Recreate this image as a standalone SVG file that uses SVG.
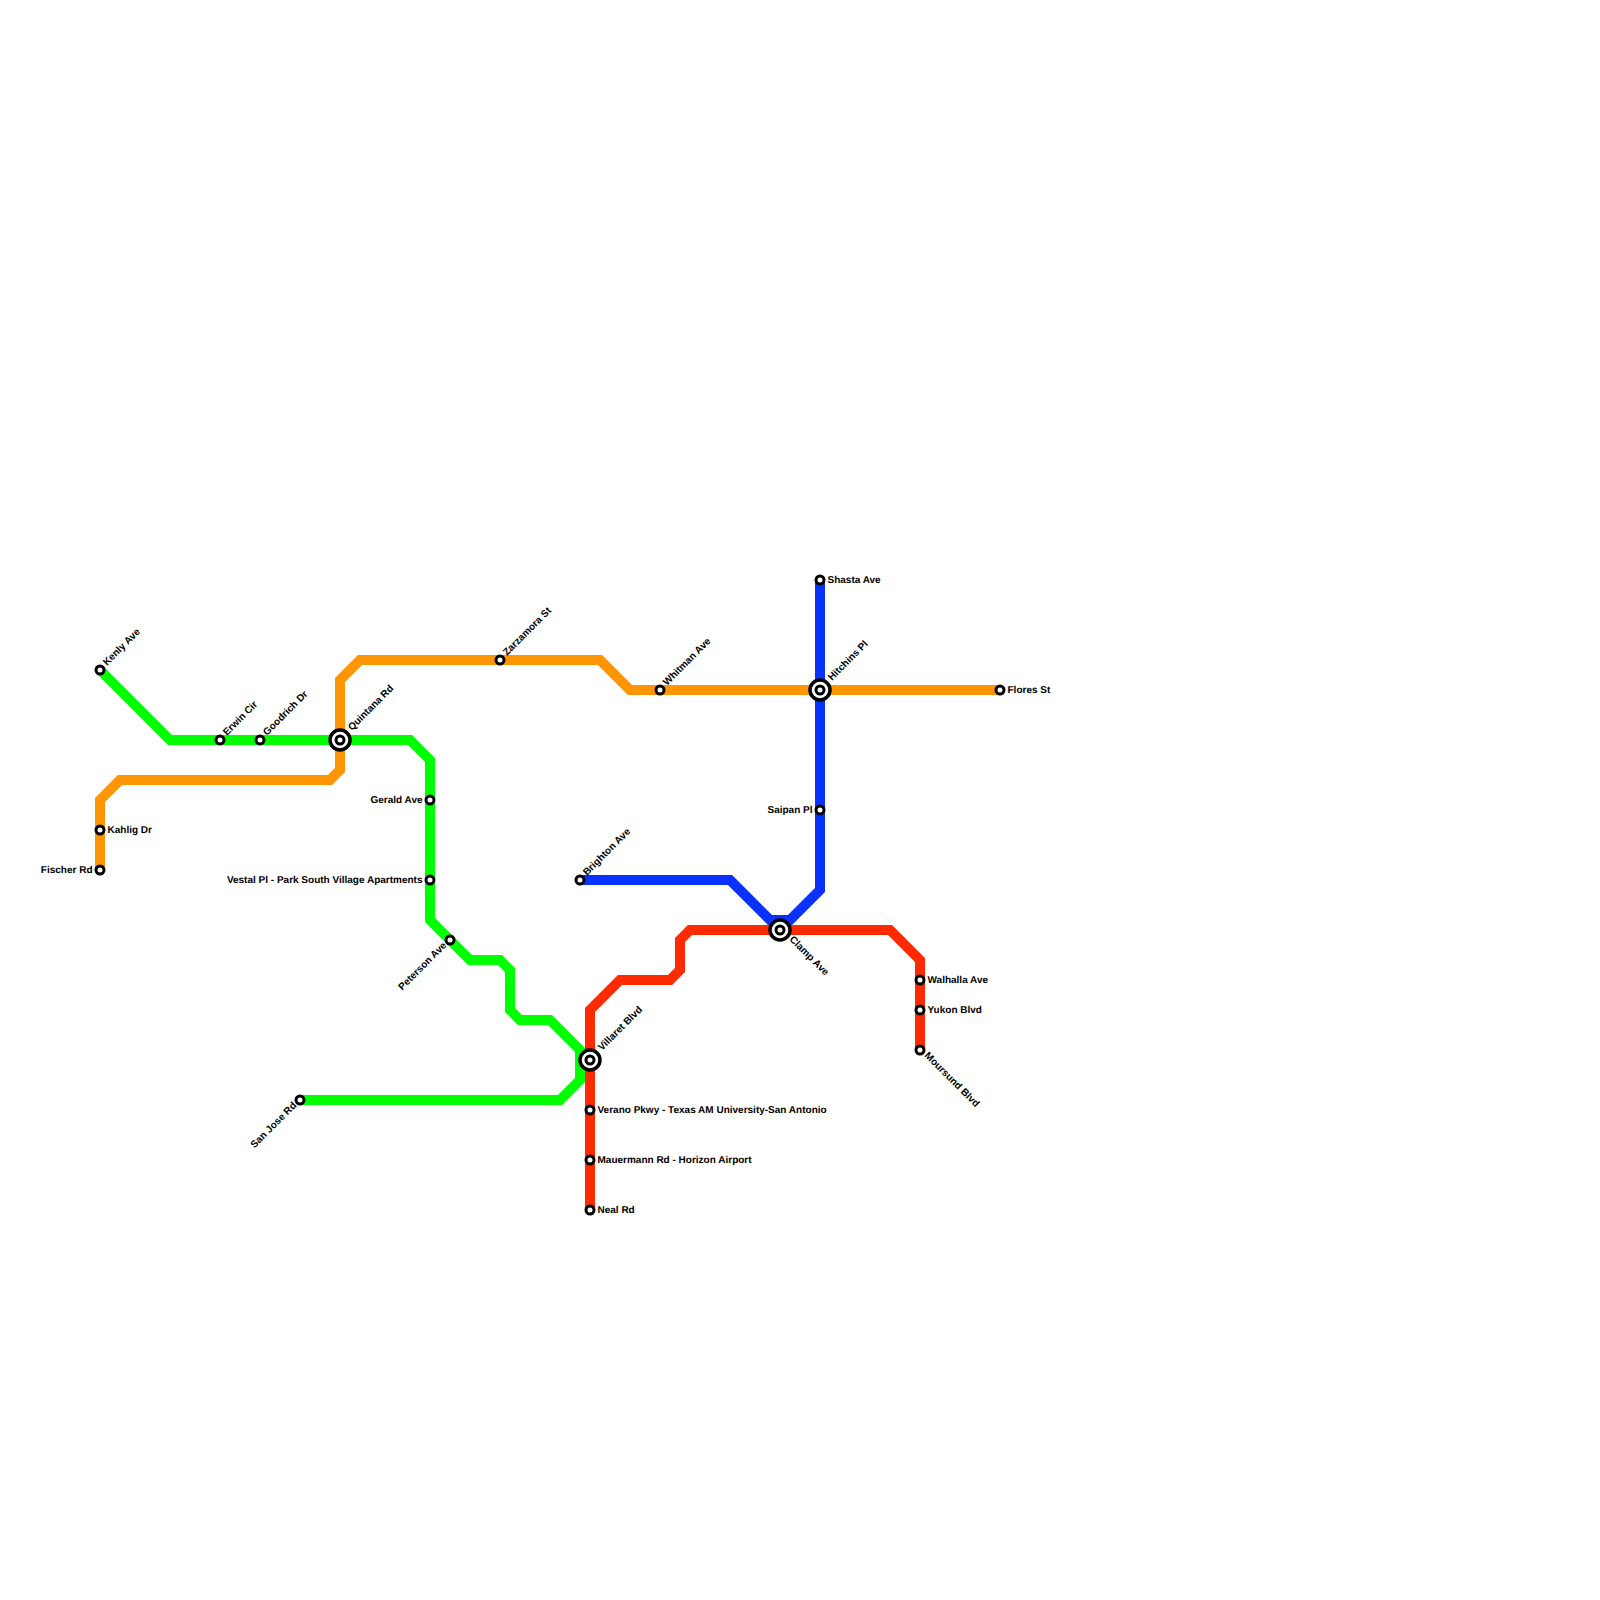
<svg xmlns="http://www.w3.org/2000/svg" width="1600" height="1600" viewBox="0 0 1600 1600">
<style>
.l{fill:none;stroke-width:10;stroke-linejoin:miter;stroke-linecap:butt}
.s{fill:#fff;stroke:#000;stroke-width:3}
.o{fill:#fff;stroke:#000;stroke-width:3.5}
text{font-family:"Liberation Sans",Arial,sans-serif;font-size:10px;font-weight:700;fill:#000;text-rendering:geometricPrecision}
.e{text-anchor:end}
</style>
<rect width="1600" height="1600" fill="#fff"/>
<g id="connectors">
<polyline class="l" stroke="#ff9500" points="100,870 100,800 120,780 330,780 340,770 340,680 360,660 600,660 630,690 1000,690"/>
<polyline class="l" stroke="#00ff00" points="100,670 170,740 410,740 430,760 430,920 470,960 500,960 510,970 510,1010 520,1020 550,1020 580,1050 580,1080 560,1100 300,1100"/>
<polyline class="l" stroke="#0a32ff" points="580,880 730,880 770,920 790,920 820,890 820,580"/>
<polyline class="l" stroke="#ff2a00" points="590,1210 590,1010 620,980 670,980 680,970 680,940 690,930 890,930 920,960 920,1050"/>
</g>
<g id="kenly"><circle class="s" cx="100" cy="670" r="4"/><text transform="translate(107 666) rotate(-45)">Kenly Ave</text></g>
<g id="erwin"><circle class="s" cx="220" cy="740" r="4"/><text transform="translate(227 736) rotate(-45)">Erwin Cir</text></g>
<g id="goodrich"><circle class="s" cx="260" cy="740" r="4"/><text transform="translate(267 736) rotate(-45)">Goodrich Dr</text></g>
<g id="quintana"><circle class="o" cx="340" cy="740" r="10"/><circle class="s" cx="340" cy="740" r="4"/><text transform="translate(352 731) rotate(-45)">Quintana Rd</text></g>
<g id="kahlig"><circle class="s" cx="100" cy="830" r="4"/><text x="107.500" y="832.500">Kahlig Dr</text></g>
<g id="fischer"><circle class="s" cx="100" cy="870" r="4"/><text class="e" x="92.500" y="872.500">Fischer Rd</text></g>
<g id="gerald"><circle class="s" cx="430" cy="800" r="4"/><text class="e" x="422.500" y="802.500">Gerald Ave</text></g>
<g id="vestal"><circle class="s" cx="430" cy="880" r="4"/><text class="e" x="422.500" y="882.500">Vestal Pl - Park South Village Apartments</text></g>
<g id="peterson"><circle class="s" cx="450" cy="940" r="4"/><text class="e" transform="translate(447 946) rotate(-45)">Peterson Ave</text></g>
<g id="sanjose"><circle class="s" cx="300" cy="1100" r="4"/><text class="e" transform="translate(297 1106) rotate(-45)">San Jose Rd</text></g>
<g id="zarzamora"><circle class="s" cx="500" cy="660" r="4"/><text transform="translate(507 656) rotate(-45)">Zarzamora St</text></g>
<g id="whitman"><circle class="s" cx="660" cy="690" r="4"/><text transform="translate(667 686) rotate(-45)">Whitman Ave</text></g>
<g id="flores"><circle class="s" cx="1000" cy="690" r="4"/><text x="1007.500" y="692.500">Flores St</text></g>
<g id="shasta"><circle class="s" cx="820" cy="580" r="4"/><text x="827.500" y="582.500">Shasta Ave</text></g>
<g id="hitchins"><circle class="o" cx="820" cy="690" r="10"/><circle class="s" cx="820" cy="690" r="4"/><text transform="translate(832 681) rotate(-45)">Hitchins Pl</text></g>
<g id="saipan"><circle class="s" cx="820" cy="810" r="4"/><text class="e" x="812.500" y="812.500">Saipan Pl</text></g>
<g id="brighton"><circle class="s" cx="580" cy="880" r="4"/><text transform="translate(587 876) rotate(-45)">Brighton Ave</text></g>
<g id="clamp"><circle class="o" cx="780" cy="930" r="10"/><circle class="s" cx="780" cy="930" r="4"/><text transform="translate(789 940) rotate(45)">Clamp Ave</text></g>
<g id="villaret"><circle class="o" cx="590" cy="1060" r="10"/><circle class="s" cx="590" cy="1060" r="4"/><text transform="translate(602 1051) rotate(-45)">Villaret Blvd</text></g>
<g id="verano"><circle class="s" cx="590" cy="1110" r="4"/><text x="597.500" y="1112.500">Verano Pkwy - Texas AM University-San Antonio</text></g>
<g id="mauermann"><circle class="s" cx="590" cy="1160" r="4"/><text x="597.500" y="1162.500">Mauermann Rd - Horizon Airport</text></g>
<g id="neal"><circle class="s" cx="590" cy="1210" r="4"/><text x="597.500" y="1212.500">Neal Rd</text></g>
<g id="walhalla"><circle class="s" cx="920" cy="980" r="4"/><text x="927.500" y="982.500">Walhalla Ave</text></g>
<g id="yukon"><circle class="s" cx="920" cy="1010" r="4"/><text x="927.500" y="1012.500">Yukon Blvd</text></g>
<g id="moursund"><circle class="s" cx="920" cy="1050" r="4"/><text transform="translate(924 1056) rotate(45)">Moursund Blvd</text></g>
</svg>
